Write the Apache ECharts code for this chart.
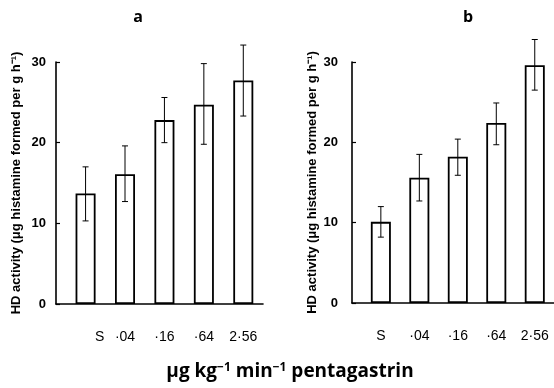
<!DOCTYPE html>
<html><head><meta charset="utf-8">
<script src="https://cdn.jsdelivr.net/npm/echarts@6/dist/echarts.min.js"></script>
<style>html,body{margin:0;padding:0;background:#fff}#c{width:554px;height:388px}</style>
</head><body><div id="c"></div>
<script>
const doses = ['S', '·04', '·16', '·64', '2·56'];
const positions = [1, 2, 3, 4, 5];
const meanA = [13.7, 16.1, 22.8, 24.7, 27.7];
const lowA  = [10.3, 12.7, 20.0, 19.8, 23.3];
const highA = [17.0, 19.6, 25.6, 29.8, 32.1];
const meanB = [10.1, 15.6, 18.2, 22.4, 29.6];
const lowB  = [8.2, 12.7, 15.9, 19.7, 26.5];
const highB = [12.0, 18.5, 20.4, 24.9, 32.8];
const panelTitles = ['a', 'b'];
const yName = 'HD activity (μg histamine formed per g h⁻¹)';
const xNameRich = '{n|μg kg}{sup|−1}{n| min}{sup|−1}{n| pentagastrin}';

const chart = echarts.init(document.getElementById('c'));

function errItem(params, api) {
  const x = api.value(0), lo = api.value(1), hi = api.value(2);
  const p1 = api.coord([x, lo]), p2 = api.coord([x, hi]);
  const w = 3;
  const st = {stroke: '#000', lineWidth: 1};
  return {type: 'group', children: [
    {type: 'line', shape: {x1: p1[0], y1: p1[1], x2: p2[0], y2: p2[1]}, style: st},
    {type: 'line', shape: {x1: p1[0] - w, y1: p1[1], x2: p1[0] + w, y2: p1[1]}, style: st},
    {type: 'line', shape: {x1: p2[0] - w, y1: p2[1], x2: p2[0] + w, y2: p2[1]}, style: st}
  ]};
}

function xAxisDef(idx, shiftFirst) {
  return {
    type: 'value', gridIndex: idx, min: 0.25, max: 5.5, minInterval: 1, maxInterval: 1,
    splitLine: {show: false}, axisTick: {show: false},
    axisLine: {lineStyle: {color: '#000', width: 1.6}},
    axisLabel: {
      showMinLabel: false, showMaxLabel: false, margin: 26,
      color: '#000', fontSize: 14, fontFamily: 'Liberation Sans',
      formatter: function (v) {
        if (!Number.isInteger(v) || v < 1 || v > doses.length) return '';
        if (shiftFirst && v === 1) return '{s|' + doses[0] + '}';
        return doses[v - 1];
      },
      rich: {s: {padding: [0, 0, 0, 28], fontSize: 14, fontFamily: 'Liberation Sans', color: '#000'}}
    }
  };
}
function yAxisDef(idx, margin) {
  return {
    type: 'value', gridIndex: idx, min: 0, max: 30, interval: 10,
    splitLine: {show: false},
    axisLine: {show: true, lineStyle: {color: '#000', width: 1.6}},
    axisTick: {show: true, inside: true, length: 4, lineStyle: {color: '#000', width: 1.2}},
    axisLabel: {margin: margin, color: '#000', fontSize: 13, fontWeight: 'bold', fontFamily: 'Liberation Sans'},
    name: yName, nameLocation: 'middle', nameGap: 33,
    nameTextStyle: {color: '#000', fontSize: 13, fontWeight: 'bold', fontFamily: 'Liberation Sans'}
  };
}
const pair = (xs, ys) => xs.map((x, i) => [x, ys[i]]);
const tri = (xs, lo, hi) => xs.map((x, i) => [x, lo[i], hi[i]]);
const barStyle = {color: '#fff', borderColor: '#000', borderWidth: 1.8};
const titleFont = {fontSize: 16, fontWeight: 'bold', fontFamily: 'Open Sans', color: '#000'};

chart.setOption({
  animation: false,
  backgroundColor: '#fff',
  title: [
    {text: panelTitles[0], left: 133, top: 4, textAlign: 'center', textStyle: titleFont},
    {text: panelTitles[1], left: 463, top: 4, textAlign: 'center', textStyle: titleFont},
    {text: xNameRich, left: 285, top: 357, textAlign: 'center',
     textStyle: {fontSize: 19, fontWeight: 'bold', fontFamily: 'Open Sans', color: '#000',
       rich: {
         n: {fontSize: 19, lineHeight: 20, fontWeight: 'bold', fontFamily: 'Open Sans', color: '#000', verticalAlign: 'top'},
         sup: {fontSize: 12, lineHeight: 7, fontWeight: 'bold', fontFamily: 'Open Sans', color: '#000', verticalAlign: 'top'}
       }}}
  ],
  grid: [
    {left: 56, top: 62, width: 207, height: 242},
    {left: 352, top: 62, width: 206, height: 241}
  ],
  xAxis: [xAxisDef(0, true), xAxisDef(1, false)],
  yAxis: [yAxisDef(0, 10), yAxisDef(1, 14)],
  series: [
    {type: 'bar', xAxisIndex: 0, yAxisIndex: 0, barWidth: 20, itemStyle: barStyle, data: pair(positions, meanA)},
    {type: 'custom', xAxisIndex: 0, yAxisIndex: 0, renderItem: errItem, data: tri(positions, lowA, highA), clip: false, z: 3},
    {type: 'bar', xAxisIndex: 1, yAxisIndex: 1, barWidth: 20, itemStyle: barStyle, data: pair(positions, meanB)},
    {type: 'custom', xAxisIndex: 1, yAxisIndex: 1, renderItem: errItem, data: tri(positions, lowB, highB), clip: false, z: 3}
  ]
});
</script></body></html>
